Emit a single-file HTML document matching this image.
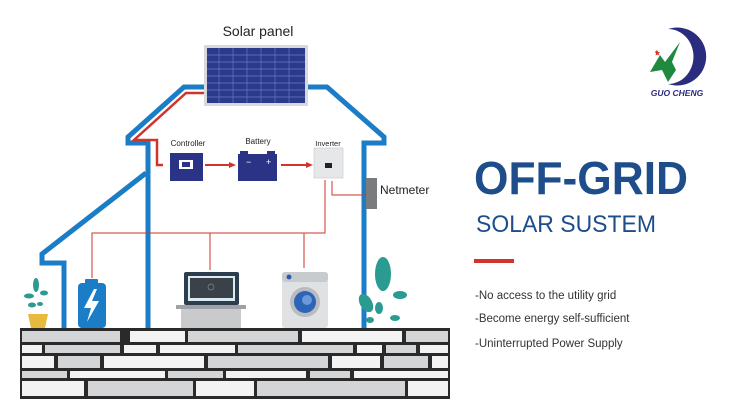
<!DOCTYPE html>
<html><head><meta charset="utf-8"><style>
html,body{margin:0;padding:0;background:#fff;width:750px;height:420px;overflow:hidden}
svg{display:block}
text{font-family:"Liberation Sans",sans-serif}
</style></head><body>
<svg width="750" height="420" viewBox="0 0 750 420" xmlns="http://www.w3.org/2000/svg">
<!-- house outline -->
<g fill="none" stroke="#1b7dc6" stroke-width="5" stroke-linejoin="miter">
<polyline points="148,328 148,143 128,143 128,137 184,87 206,87"/>
<polyline points="306,87 327,87 384,137 384,143 364,143 364,328"/>
<polyline points="146,173 42,254 42,263 64,263 64,328"/>
</g>
<!-- solar panel -->
<rect x="204" y="45" width="104" height="61" fill="#d7d9de"/>
<rect x="207" y="48" width="98" height="55" fill="#2b3a8c"/>
<g stroke="#6b79c0" stroke-width="0.7">
<line x1="207" y1="55" x2="305" y2="55"/><line x1="207" y1="62" x2="305" y2="62"/><line x1="207" y1="69" x2="305" y2="69"/><line x1="207" y1="76" x2="305" y2="76"/><line x1="207" y1="83" x2="305" y2="83"/><line x1="207" y1="90" x2="305" y2="90"/><line x1="207" y1="97" x2="305" y2="97"/>
<line x1="219" y1="48" x2="219" y2="103"/><line x1="233" y1="48" x2="233" y2="103"/><line x1="247" y1="48" x2="247" y2="103"/><line x1="261" y1="48" x2="261" y2="103"/><line x1="275" y1="48" x2="275" y2="103"/><line x1="289" y1="48" x2="289" y2="103"/>
</g>
<text x="258" y="36" font-size="14" text-anchor="middle" fill="#222">Solar panel</text>
<!-- red thick wire -->
<polyline points="204,93 186,93 134,140 157,140 157,165 163,165" fill="none" stroke="#d2332b" stroke-width="2.5"/>
<!-- controller -->
<text x="188" y="146" font-size="8" text-anchor="middle" fill="#222">Controller</text>
<rect x="170" y="153" width="33" height="28" fill="#2a3385"/>
<rect x="179" y="160" width="14" height="9" fill="#fff"/><rect x="182" y="162" width="8" height="5" fill="#2a3385"/>
<line x1="205" y1="165" x2="230" y2="165" stroke="#d2332b" stroke-width="2"/><polygon points="229,162 236,165 229,168" fill="#d2332b"/>
<!-- battery -->
<text x="258" y="144" font-size="8" text-anchor="middle" fill="#222">Battery</text>
<rect x="240" y="151" width="8" height="4" fill="#2a3385"/><rect x="267" y="151" width="8" height="4" fill="#2a3385"/>
<rect x="238" y="154" width="39" height="27" fill="#2a3385"/>
<text x="246" y="165" font-size="9" fill="#fff">−</text><text x="266" y="165" font-size="9" fill="#fff">+</text>
<line x1="281" y1="165" x2="307" y2="165" stroke="#d2332b" stroke-width="2"/><polygon points="306,162 313,165 306,168" fill="#d2332b"/>
<!-- inverter -->
<text x="328" y="146" font-size="7.5" text-anchor="middle" fill="#222">Inverter</text>
<rect x="314" y="148" width="29" height="30" fill="#e6e7e9" stroke="#c5c7ca" stroke-width="0.6"/>
<rect x="325" y="163" width="7" height="5" fill="#222"/>
<!-- thin red wires -->
<g fill="none" stroke="#d2332b" stroke-width="1">
<polyline points="325,180 325,233 92,233 92,278"/>
<line x1="210" y1="233" x2="210" y2="270"/>
<line x1="304" y1="233" x2="304" y2="268"/>
<polyline points="332,181 332,195 366,195"/>
</g>
<!-- netmeter -->
<rect x="366" y="178" width="11" height="31" fill="#7a7b7d"/>
<text x="380" y="194" font-size="12" fill="#222">Netmeter</text>
<!-- phone battery -->
<rect x="85" y="279" width="13" height="5" rx="1" fill="#1b7dc6"/>
<rect x="78" y="283" width="28" height="45" rx="4" fill="#1b7dc6"/>
<polygon points="94,289 84,308 91,308 87,322 99,301 92,301 97,289" fill="#fff"/>
<!-- laptop -->
<rect x="184" y="272" width="55" height="33" rx="2" fill="#2c3e4e"/>
<rect x="188" y="276" width="47" height="25" fill="#d9ecf2"/><rect x="190" y="278" width="43" height="20" fill="#3b4148"/>
<circle cx="211" cy="287" r="3" fill="none" stroke="#888" stroke-width="0.7"/>
<rect x="176" y="305" width="70" height="4" fill="#9ea2a6"/>
<rect x="181" y="309" width="60" height="19" fill="#c8cacc"/>
<!-- washer -->
<rect x="282" y="272" width="46" height="56" rx="3" fill="#dfe1e3"/>
<rect x="282" y="272" width="46" height="10" rx="3" fill="#c8cbce"/>
<circle cx="289" cy="277" r="2.5" fill="#2a5bb0"/>
<circle cx="305" cy="302" r="15" fill="#b8bcc0"/><circle cx="305" cy="302" r="11" fill="#2d64b8"/><circle cx="307" cy="300" r="5" fill="#6c9ad8"/>
<!-- plants -->
<g fill="#2a9b91">
<ellipse cx="36" cy="285" rx="3" ry="7"/><ellipse cx="29" cy="296" rx="5" ry="2.5"/><ellipse cx="44" cy="293" rx="4" ry="2.5"/><ellipse cx="32" cy="305" rx="4" ry="2.5"/><ellipse cx="40" cy="304" rx="3" ry="2"/>
<ellipse cx="383" cy="274" rx="8" ry="17"/><ellipse cx="366" cy="303" rx="6" ry="10" transform="rotate(-30 366 303)"/><ellipse cx="400" cy="295" rx="7" ry="4"/><ellipse cx="379" cy="308" rx="4" ry="6"/><ellipse cx="395" cy="318" rx="5" ry="3"/><ellipse cx="370" cy="320" rx="4" ry="3"/>
</g>
<path d="M28,314 h20 l-3,14 h-14 z" fill="#e7b93d"/>
<!-- stone wall -->
<rect x="20" y="328" width="430" height="71" fill="#2a2a2a"/>
<g fill="#d4d5d6">
<rect x="22" y="331" width="98" height="11"/><rect x="130" y="331" width="55" height="11" fill="#f3f3f3"/><rect x="188" y="331" width="110" height="11"/><rect x="302" y="331" width="100" height="11" fill="#f3f3f3"/><rect x="406" y="331" width="42" height="11"/>
<rect x="22" y="345" width="20" height="8" fill="#f3f3f3"/><rect x="45" y="345" width="75" height="8"/><rect x="124" y="345" width="32" height="8" fill="#f3f3f3"/><rect x="160" y="345" width="75" height="8" fill="#f3f3f3"/><rect x="238" y="345" width="115" height="8"/><rect x="357" y="345" width="25" height="8" fill="#f3f3f3"/><rect x="386" y="345" width="30" height="8"/><rect x="420" y="345" width="28" height="8" fill="#f3f3f3"/>
<rect x="22" y="356" width="32" height="12" fill="#f3f3f3"/><rect x="58" y="356" width="42" height="12"/><rect x="104" y="356" width="100" height="12" fill="#f3f3f3"/><rect x="208" y="356" width="120" height="12"/><rect x="332" y="356" width="48" height="12" fill="#f3f3f3"/><rect x="384" y="356" width="44" height="12"/><rect x="432" y="356" width="16" height="12" fill="#f3f3f3"/>
<rect x="22" y="371" width="45" height="7"/><rect x="70" y="371" width="95" height="7" fill="#f3f3f3"/><rect x="168" y="371" width="55" height="7"/><rect x="226" y="371" width="80" height="7" fill="#f3f3f3"/><rect x="310" y="371" width="40" height="7"/><rect x="354" y="371" width="94" height="7" fill="#f3f3f3"/>
<rect x="22" y="381" width="62" height="15" fill="#f3f3f3"/><rect x="88" y="381" width="105" height="15"/><rect x="196" y="381" width="58" height="15" fill="#f3f3f3"/><rect x="257" y="381" width="148" height="15"/><rect x="408" y="381" width="40" height="15" fill="#f3f3f3"/>
</g>
<!-- logo -->
<path d="M668,29 A29,29 0 1 1 668,84 A25,27 0 0 0 668,29 Z" fill="#2a2d7e"/>
<path d="M650,72 L660,55 L665,62 L680,42 L672,62 L676,70 L668,82 L662,70 Z" fill="#1f8a3f"/>
<path d="M655,52 l2,-2 l1,2 l2,0 l-1.5,1.5 l1,2 l-2,-1 l-2,1 l0.5,-2 z" fill="#d2332b"/>
<text x="677" y="96" font-size="8.5" font-style="italic" font-weight="bold" text-anchor="middle" fill="#2a2d7e">GUO CHENG</text>
<!-- headings -->
<text x="474" y="194" font-size="46" font-weight="bold" fill="#1e4d8c" textLength="214" lengthAdjust="spacingAndGlyphs">OFF-GRID</text>
<text x="476" y="232" font-size="24" fill="#1e4d8c" textLength="180" lengthAdjust="spacingAndGlyphs">SOLAR  SUSTEM</text>
<rect x="474" y="259" width="40" height="4" fill="#d2332b"/>
<g font-size="11.5" fill="#333">
<text x="475" y="299">-No access to the utility grid</text>
<text x="475" y="322">-Become energy self-sufficient</text>
<text x="475" y="347">-Uninterrupted Power Supply</text>
</g>
</svg>
</body></html>
